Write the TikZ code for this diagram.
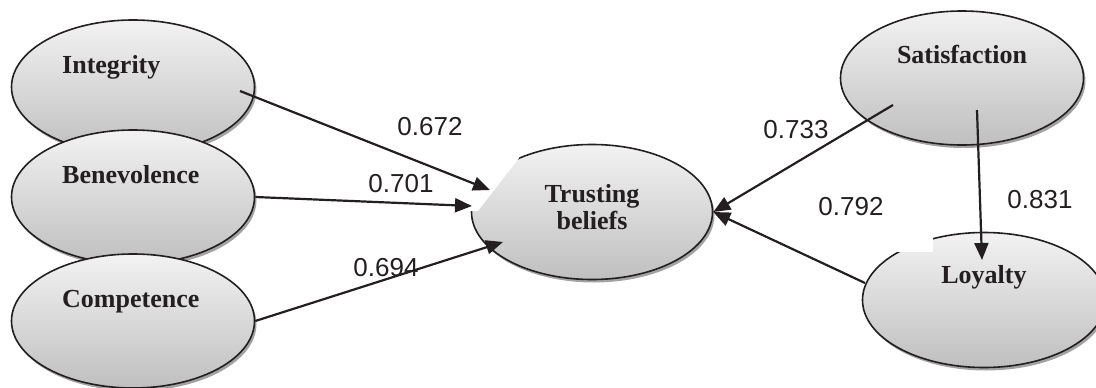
\documentclass[tikz,border=0pt]{standalone}
\usepackage{fontspec}
\setmainfont{Liberation Serif}
\newfontfamily\numfont{Liberation Sans}
\usepackage{tikz}
\usetikzlibrary{arrows.meta, positioning, shapes.geometric, shadows, calc}
\definecolor{inktext}{RGB}{35,31,32}
\definecolor{shadegray}{RGB}{140,140,140}

\begin{document}
\begin{tikzpicture}[
    x=1pt, y=-1pt,
    construct/.style={ellipse, draw=inktext, line width=1.6pt, minimum width=243pt, minimum height=134pt, inner sep=0pt,
        top color=black!5, bottom color=black!25, drop shadow={shadow xshift=2pt, shadow yshift=-3pt, fill=shadegray, opacity=0.8}},
    ttl/.style={font=\fontsize{26}{27}\selectfont\bfseries, text=inktext, inner sep=0pt},
    wt/.style={font=\fontsize{26}{28}\selectfont\numfont, text=inktext, inner sep=0pt},
    arr/.style={-{Triangle[length=17pt, width=14pt]}, line width=2.2pt, draw=inktext}
]
\useasboundingbox (0,0) rectangle (1096,388);

\node[construct] (integ) at (133,87) {};
\node[construct] (benev) at (133,197) {};
\node[construct] (comp) at (133,321) {};
\node[construct, minimum width=241pt, minimum height=135pt] (trust) at (592,212) {};
\node[construct] (satis) at (962,78) {};
\node[construct, minimum height=135pt] (loyal) at (984,300) {};

% white cut-outs over two of the ellipses
\fill[white] (460,138) -- (519,138) -- (519,158) -- (478,211) -- (460,211) -- cycle;
\fill[white] (890,222) rectangle (933,252);

\node[ttl, anchor=base west] (integ-t) at ($(integ)+(-71,-14)$) {Integrity};
\node[ttl, anchor=base west] (benev-t) at ($(benev)+(-71,-14)$) {Benevolence};
\node[ttl, anchor=base west] (comp-t) at ($(comp)+(-71,-14)$) {Competence};
\node[ttl, align=center] (trust-t) at ($(trust)+(0,-5)$) {Trusting\\beliefs};
\node[ttl, anchor=base] (satis-t) at ($(satis)+(0,-15)$) {Satisfaction};
\node[ttl, anchor=base] (loyal-t) at ($(loyal)+(0,-17)$) {Loyalty};

\draw[arr] ($(integ)+(107,4)$) -- ($(trust)+(-102,-22)$);
\draw[arr] (benev.east) -- ($(trust)+(-120,-6)$);
\draw[arr] (comp.east) -- ($(trust)+(-89,30)$);
\draw[arr] ($(satis)+(-69,27)$) -- (trust.east);
\draw[arr] ($(loyal)+(-119,-17)$) -- (trust.east);
\draw[arr] ($(satis)+(15,32)$) -- ($(loyal)+(-2,-40)$);

\node[wt] (w-integ) at (430,127) {0.672};
\node[wt] (w-benev) at (401,184) {0.701};
\node[wt] (w-comp) at (386,268) {0.694};
\node[wt] (w-satis) at (796,130) {0.733};
\node[wt] (w-loyal) at (851,207) {0.792};
\node[wt] (w-sl) at (1040,200) {0.831};
\end{tikzpicture}
\end{document}
